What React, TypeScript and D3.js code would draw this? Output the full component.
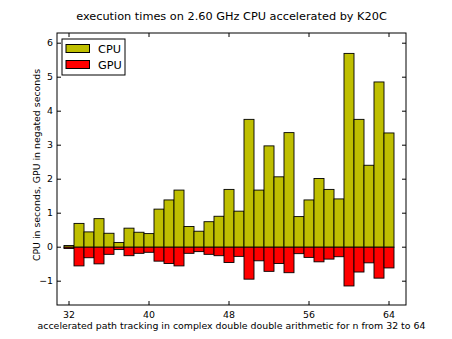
import React from "react";
import * as d3 from "d3";

// n from 32 to 64
const sizes = d3.range(32, 65);

// CPU times in seconds
const cpuTimes = [
  0.05, 0.7, 0.45, 0.84, 0.41, 0.14, 0.56, 0.44, 0.4, 1.12, 1.39, 1.68, 0.61,
  0.47, 0.75, 0.91, 1.7, 1.06, 3.76, 1.68, 2.98, 2.07, 3.37, 0.9, 1.39, 2.02,
  1.7, 1.42, 5.7, 3.76, 2.41, 4.86, 3.36,
];

// GPU times in seconds (drawn negated)
const gpuTimes = [
  0.04, 0.55, 0.31, 0.49, 0.21, 0.07, 0.25, 0.18, 0.15, 0.41, 0.48, 0.55, 0.18,
  0.13, 0.21, 0.25, 0.45, 0.27, 0.94, 0.4, 0.71, 0.48, 0.75, 0.19, 0.3, 0.43,
  0.35, 0.28, 1.14, 0.73, 0.46, 0.91, 0.61,
];

const xTicks = [32, 40, 48, 56, 64];
const yTicks = [-1, 0, 1, 2, 3, 4, 5, 6];

const W = 452;
const H = 339;
const left = 57;
const right = 406;
const top = 33;
const bottom = 305;

export default function App() {
  const x = d3.scaleLinear().domain([30.8, 65.7]).range([left, right]);
  const y = d3.scaleLinear().domain([-1.7, 6.3]).range([bottom, top]);
  const fmt = (v: number) => (v < 0 ? "\u2212" + Math.abs(v) : String(v));
  const font = "DejaVu Sans, sans-serif";

  return (
    <svg
      width={W}
      height={H}
      style={{ position: "absolute", left: 0, top: 0, background: "#fff" }}
      fontFamily={font}
    >
      <rect x={0} y={0} width={W} height={H} fill="#fff" />
      {sizes.map((n, i) => (
        <g key={n}>
          <rect
            x={x(n - 0.5)}
            width={x(n + 0.5) - x(n - 0.5)}
            y={y(cpuTimes[i])}
            height={y(0) - y(cpuTimes[i])}
            fill="#bfbf00"
            stroke="#000"
            strokeWidth={0.9}
          />
          <rect
            x={x(n - 0.5)}
            width={x(n + 0.5) - x(n - 0.5)}
            y={y(0)}
            height={y(-gpuTimes[i]) - y(0)}
            fill="#ff0000"
            stroke="#000"
            strokeWidth={0.9}
          />
        </g>
      ))}

      {/* frame */}
      <rect
        x={left}
        y={top}
        width={right - left}
        height={bottom - top}
        fill="none"
        stroke="#000"
        strokeWidth={1}
      />

      {/* ticks */}
      {xTicks.map((t) => (
        <g key={t}>
          <line x1={x(t)} x2={x(t)} y1={bottom} y2={bottom - 4} stroke="#000" />
          <line x1={x(t)} x2={x(t)} y1={top} y2={top + 4} stroke="#000" />
          <text x={x(t)} y={bottom + 13} fontSize={9.4} textAnchor="middle">
            {t}
          </text>
        </g>
      ))}
      {yTicks.map((t) => (
        <g key={t}>
          <line x1={left} x2={left + 4} y1={y(t)} y2={y(t)} stroke="#000" />
          <line x1={right} x2={right - 4} y1={y(t)} y2={y(t)} stroke="#000" />
          <text
            x={left - 4}
            y={y(t)}
            dy="0.35em"
            fontSize={9.4}
            textAnchor="end"
          >
            {fmt(t)}
          </text>
        </g>
      ))}

      {/* title and labels */}
      <text x={(left + right) / 2} y={20} fontSize={11.3} textAnchor="middle">
        execution times on 2.60 GHz CPU accelerated by K20C
      </text>
      <text x={(left + right) / 2} y={329} fontSize={9.4} textAnchor="middle">
        accelerated path tracking in complex double double arithmetic for n from
        32 to 64
      </text>
      <text
        transform={`translate(40,${(top + bottom) / 2 - 4}) rotate(-90)`}
        fontSize={9.4}
        textAnchor="middle"
      >
        CPU in seconds, GPU in negated seconds
      </text>

      {/* legend */}
      <rect x={62} y={39} width={63} height={36} fill="#fff" stroke="#000" />
      <rect x={66} y={44.5} width={23.5} height={8} fill="#bfbf00" stroke="#000" />
      <rect x={66} y={60.5} width={23.5} height={8} fill="#ff0000" stroke="#000" />
      <text x={98} y={53} fontSize={11.3}>
        CPU
      </text>
      <text x={98} y={69} fontSize={11.3}>
        GPU
      </text>
    </svg>
  );
}
